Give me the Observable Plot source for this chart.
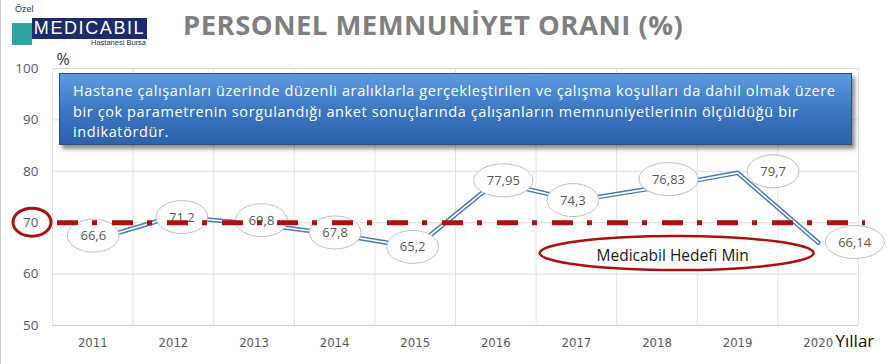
<!DOCTYPE html>
<html>
<head>
<meta charset="utf-8">
<script src="https://cdn.jsdelivr.net/npm/d3@7"></script>
<script src="https://cdn.jsdelivr.net/npm/@observablehq/plot@0.6"></script>
<style>
  html, body { margin: 0; padding: 0; background: #fff; }
  #wrap { position: relative; width: 887px; height: 364px; overflow: hidden; background: #fff; font-family: "Open Sans", sans-serif; }
  #header { height: 40px; }
  #leftline { position: absolute; left: 0; top: 0; width: 1px; height: 364px; background: #cfcfcf; z-index: 3; }
  #ozel { position: absolute; left: 15px; top: 4px; font-size: 9px; color: #1f3572; font-family: "Liberation Sans", Arial, sans-serif; z-index: 3; }
  #navy { position: absolute; left: 32px; top: 18px; width: 115px; height: 21px; background: #1b2b6b; color: #fff; font-family: "Liberation Sans", Arial, sans-serif; font-size: 18px; letter-spacing: 1.6px; line-height: 21px; text-align: center; z-index: 3; }
  #teal { position: absolute; left: 12px; top: 23px; width: 20px; height: 22px; background: #2ea39f; z-index: 4; }
  #hb { position: absolute; left: 91px; top: 38px; font-size: 7.5px; color: #1b2b6b; font-family: "Liberation Sans", Arial, sans-serif; z-index: 3; white-space: nowrap; }
  #title { position: absolute; left: 183px; top: 8px; font-weight: 700; color: #7f7f7f; white-space: nowrap; line-height: 1; z-index: 3; }
  #info { position: absolute; left: 59px; top: 73px; width: 793px; height: 72px; box-sizing: border-box;
          background: linear-gradient(#5c9be0, #3b74c0 55%, #2d62a9); border: 1px solid #2c4f86;
          box-shadow: 3px 4px 4px rgba(0,0,0,0.45); color: #fff; padding: 7px 0 0 13px; line-height: 20.5px; white-space: nowrap; z-index: 3; }
</style>
</head>
<body>
<div id="wrap">
  <div id="header"></div>
  <div id="chart"></div>
  <div id="leftline"></div>
  <div id="ozel">Özel</div>
  <div id="navy">MEDICABIL</div>
  <div id="teal"></div>
  <div id="hb">Hastanesi Bursa</div>
  <div id="title">PERSONEL MEMNUNİYET ORANI (%)</div>
  <div id="info"></div>
</div>
<script>
// ---- data ----
const years = [2011, 2012, 2013, 2014, 2015, 2016, 2017, 2018, 2019, 2020];
const satisfaction = [66.6, 71.2, 69.8, 67.8, 65.2, 77.95, 74.3, 76.83, 79.7, 66.14];
const valueLabels = ["66,6", "71,2", "69,8", "67,8", "65,2", "77,95", "74,3", "76,83", "79,7", "66,14"];
const yTicks = [50, 60, 70, 80, 90, 100];
const target = 70;
const targetLabel = "Medicabil Hedefi Min";
const infoLines = [
  "Hastane çalışanları üzerinde düzenli aralıklarla gerçekleştirilen ve çalışma koşulları da dahil olmak üzere",
  "bir çok parametrenin sorgulandığı anket sonuçlarında çalışanların memnuniyetlerinin ölçüldüğü bir",
  "indikatördür."
];
// label placement nudges (pixels) – layout only
const labelDx = [1, 9, 8, 1, -2, 8, -3, 12, 36, 37];
const labelDy = [-4, 1, -3, -1, 0, -1, 0, -8, -1, 0];

const rows = years.map((year, i) => ({year, value: satisfaction[i], label: valueLabels[i]}));

// ---- text measuring ----
const cnv = document.createElement("canvas").getContext("2d");
function measure(text, font) { cnv.font = font; return cnv.measureText(text).width; }

// title fit
(function() {
  const t = document.getElementById("title");
  const txt = t.textContent;
  let fs = 28;
  let w = measure(txt, `700 ${fs}px "Open Sans"`);
  let ls = (500 - w) / (txt.length - 1);
  if (ls < 0.5) { fs = fs * (500 - 0.5 * (txt.length - 1)) / w; ls = 0.5; }
  t.style.fontSize = fs + "px";
  t.style.letterSpacing = ls + "px";
  t.style.top = (35 - 0.888 * fs) + "px";
})();

// info box
(function() {
  const box = document.getElementById("info");
  const fs = 14.5;
  const w = measure(infoLines[0], `${fs}px "Open Sans"`);
  const ls = (762 - w) / (infoLines[0].length - 1);
  box.style.fontSize = fs + "px";
  box.style.letterSpacing = ls + "px";
  box.innerHTML = "";
  infoLines.forEach(l => {
    const d = document.createElement("div");
    d.textContent = l;
    box.appendChild(d);
  });
})();

const darkRed = "#a81212";
const lblFont = `13px "Open Sans"`;

function bubbles(index, scales) {
  const g = d3.create("svg:g");
  rows.forEach((r, i) => {
    const cx = scales.x(r.year) + labelDx[i];
    const cy = scales.y(r.value) + labelDy[i];
    const rx = measure(r.label, lblFont) / 2 + 13;
    g.append("ellipse").attr("cx", cx).attr("cy", cy).attr("rx", rx).attr("ry", 16.5)
      .attr("fill", "#fff").attr("stroke", "#bfbfbf").attr("stroke-width", 1);
    g.append("text").attr("x", cx).attr("y", cy).attr("dy", "0.35em")
      .attr("text-anchor", "middle").attr("fill", "#595959")
      .attr("font-family", "Open Sans").attr("font-size", 13).text(r.label);
  });
  return g.node();
}

function targetMarks(index, scales, values, dims) {
  const g = d3.create("svg:g");
  // circle around the target tick label
  g.append("ellipse").attr("cx", dims.marginLeft - 20).attr("cy", scales.y(target))
    .attr("rx", 19).attr("ry", 14).attr("fill", "none").attr("stroke", darkRed).attr("stroke-width", 3);
  // target caption ellipse
  const cx = scales.x(2018.25), cy = scales.y(64);
  g.append("ellipse").attr("cx", cx).attr("cy", cy).attr("rx", 137).attr("ry", 17)
    .attr("fill", "#fff").attr("stroke", darkRed).attr("stroke-width", 2.5);
  g.append("text").attr("x", cx - 4).attr("y", cy + 3).attr("dy", "0.35em")
    .attr("text-anchor", "middle").attr("fill", "#1a1a1a")
    .attr("font-family", "Open Sans").attr("font-size", 15.5).text(targetLabel);
  return g.node();
}

const bounds = years.map(y => y - 0.5).concat([years[years.length - 1] + 0.5]);

const chart = Plot.plot({
  width: 887,
  height: 324,
  marginTop: 28,
  marginBottom: 39,
  marginLeft: 52,
  marginRight: 29,
  style: {fontFamily: "Open Sans", fontSize: "13px", color: "#595959", background: "transparent", overflow: "visible"},
  x: {domain: [bounds[0], bounds[bounds.length - 1]]},
  y: {domain: [50, 100]},
  marks: [
    Plot.gridY(yTicks, {stroke: "#dedede", strokeOpacity: 1}),
    Plot.ruleX(bounds, {stroke: "#e2e2e2"}),
    Plot.ruleY([50], {stroke: "#cfcfcf"}),
    Plot.axisY({ticks: yTicks, tickSize: 0, tickPadding: 14, label: null, fontSize: 13.5}),
    Plot.axisX({ticks: years, tickSize: 0, tickPadding: 12, label: null, tickFormat: d => String(d),
                fontFamily: "Liberation Sans Narrow, DejaVu Sans Condensed, Open Sans", fontSize: 13}),
    Plot.line(rows, {x: "year", y: "value", stroke: "#4f7cb6", strokeWidth: 4.6, strokeLinejoin: "miter"}),
    Plot.line(rows, {x: "year", y: "value", stroke: "#ffffff", strokeWidth: 1.6, strokeLinejoin: "miter"}),
    bubbles,
    Plot.ruleY([target], {stroke: darkRed, strokeWidth: 5, strokeDasharray: "21,14,5,15", insetLeft: 5, insetRight: -7}),
    targetMarks,
    Plot.text(["%"], {frameAnchor: "top-left", dx: 4, dy: -15, fontSize: 16, fill: "#333"}),
    Plot.text(["Yıllar"], {frameAnchor: "bottom-right", textAnchor: "start", dx: -23, dy: 21, fontSize: 17, fill: "#111"})
  ]
});
document.getElementById("chart").appendChild(chart);
</script>
</body>
</html>
